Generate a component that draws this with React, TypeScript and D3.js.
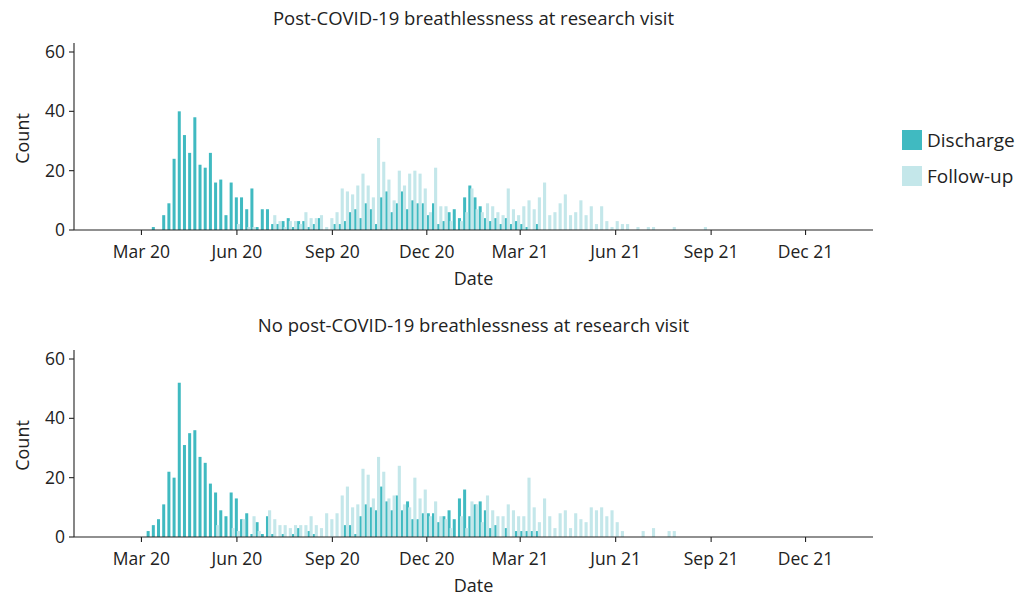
import React from 'react';
import * as d3 from 'd3';

// 5-day bins starting from the first admission week
const binStart = new Date(2020, 2, 6);
const binDays = 5;

const topDischarge = [
  0, 1, 0, 5, 9, 24, 40, 32, 26, 38,
  22, 21, 26, 16, 17, 5, 16, 11, 11, 7,
  14, 1, 7, 7, 2, 2, 3, 4, 1, 3,
  3, 1, 2, 4, 0, 0, 2, 2, 3, 6,
  7, 4, 9, 7, 2, 11, 13, 6, 9, 13,
  7, 10, 9, 9, 5, 9, 2, 3, 6, 7,
  4, 11, 15, 11, 8, 4, 3, 4, 2, 4,
  2, 3, 2, 1, 0, 2, 0, 0, 0, 0,
];
const topFollowUp = [
  0, 0, 0, 0, 0, 0, 0, 0, 0, 0,
  0, 0, 0, 0, 0, 0, 0, 2, 0, 1,
  1, 0, 0, 0, 5, 3, 1, 3, 3, 2,
  6, 4, 4, 5, 1, 4, 6, 14, 13, 12,
  15, 19, 15, 11, 31, 23, 17, 10, 20, 15,
  19, 20, 19, 14, 6, 21, 8, 8, 3, 0,
  3, 6, 14, 7, 6, 9, 8, 6, 5, 14,
  7, 5, 8, 10, 7, 11, 16, 5, 6, 9,
  12, 5, 6, 10, 5, 8, 2, 8, 3, 1,
  3, 2, 2, 0, 1, 0, 1, 1, 0, 0,
  0, 1, 0, 0, 0, 0, 0, 1,
];
const bottomDischarge = [
  2, 4, 6, 11, 22, 20, 52, 31, 35, 36,
  27, 25, 18, 15, 9, 7, 15, 13, 6, 8,
  1, 5, 1, 7, 1, 0, 1, 0, 1, 3,
  0, 2, 1, 0, 0, 0, 0, 0, 4, 4,
  1, 7, 11, 10, 9, 17, 12, 9, 14, 9,
  12, 6, 6, 8, 8, 8, 5, 7, 9, 6,
  13, 16, 7, 11, 12, 9, 3, 4, 0, 3,
  0, 2, 2, 2, 2, 2, 0, 0, 0, 0,
];
const bottomFollowUp = [
  0, 0, 0, 0, 0, 0, 0, 0, 0, 0,
  0, 0, 0, 4, 0, 0, 3, 2, 6, 0,
  7, 2, 0, 9, 6, 4, 4, 3, 4, 4,
  4, 7, 4, 3, 8, 6, 8, 14, 17, 10,
  11, 23, 21, 13, 27, 22, 13, 14, 24, 11,
  10, 20, 13, 16, 7, 12, 7, 6, 3, 0,
  7, 3, 12, 11, 5, 14, 9, 7, 7, 11,
  9, 7, 7, 20, 10, 5, 13, 7, 3, 8,
  9, 3, 8, 6, 5, 10, 9, 10, 7, 9,
  5, 2, 0, 0, 0, 2, 0, 3, 0, 0,
  2, 2,
];

const panels = [
  { title: 'Post-COVID-19 breathlessness at research visit', discharge: topDischarge, followUp: topFollowUp },
  { title: 'No post-COVID-19 breathlessness at research visit', discharge: bottomDischarge, followUp: bottomFollowUp },
];

const xTicks = [
  new Date(2020, 2, 1), new Date(2020, 5, 1), new Date(2020, 8, 1), new Date(2020, 11, 1),
  new Date(2021, 2, 1), new Date(2021, 5, 1), new Date(2021, 8, 1), new Date(2021, 11, 1),
];
const yTicks = [0, 20, 40, 60];

const seriesNames = ['Discharge', 'Follow-up'];
const colors = ['#40BAC1', '#C4E7EA'];

const font = "'Open Sans', sans-serif";
const ink = '#222';

const W = 1028;
const H = 595;
const left = 74;
const right = 873;
const panelStep = 307;

const x = d3.scaleTime()
  .domain([new Date(2019, 11, 27), new Date(2022, 1, 4)])
  .range([left, right]);

const y = d3.scaleLinear().domain([0, 60]).range([230, 52]);
const fmt = d3.timeFormat('%b %y');

const binDate = (i: number) => d3.timeDay.offset(binStart, i * binDays);

const Panel = ({ p, dy }: { p: typeof panels[0]; dy: number }) => {
  const bins = d3.range(Math.max(p.discharge.length, p.followUp.length));
  const bw = x(binDate(1)) - x(binDate(0));
  return (
    <g transform={`translate(0,${dy})`}>
      <text x={(left + right) / 2} y={25} textAnchor="middle" fontSize={18.5} fill={ink}>{p.title}</text>
      {bins.map(i => {
        const v = p.discharge[i] || 0;
        if (!v) return null;
        return <rect key={'d' + i} x={x(binDate(i))} y={y(v)} width={bw * 0.58} height={y(0) - y(v)} fill={colors[0]} />;
      })}
      {bins.map(i => {
        const v = p.followUp[i] || 0;
        if (!v) return null;
        return <rect key={'f' + i} x={x(binDate(i)) + bw * 0.4} y={y(v)} width={bw * 0.6} height={y(0) - y(v)} fill={colors[1]} />;
      })}
      <line x1={left} x2={left} y1={43} y2={y(0)} stroke={ink} strokeWidth={1.1} />
      <line x1={left} x2={right} y1={y(0)} y2={y(0)} stroke={ink} strokeWidth={1.1} />
      {yTicks.map(t => (
        <g key={t}>
          <line x1={left - 5} x2={left} y1={y(t)} y2={y(t)} stroke={ink} strokeWidth={1.1} />
          <text x={left - 9} y={y(t)} dy="0.35em" textAnchor="end" fontSize={17.5} fill={ink}>{t}</text>
        </g>
      ))}
      {xTicks.map(t => (
        <g key={+t}>
          <line x1={x(t)} x2={x(t)} y1={y(0)} y2={y(0) + 5} stroke={ink} strokeWidth={1.1} />
          <text x={x(t)} y={258} textAnchor="middle" fontSize={17.5} fill={ink}>{fmt(t)}</text>
        </g>
      ))}
      <text x={(left + right) / 2} y={284.5} textAnchor="middle" fontSize={18} fill={ink}>Date</text>
      <text transform={`translate(23,${(43 + 230) / 2 + 2}) rotate(-90)`} textAnchor="middle" dy="0.35em" fontSize={18} fill={ink}>Count</text>
    </g>
  );
};

export default function App() {
  return (
    <svg width={W} height={H} style={{ position: 'absolute', left: 0, top: 0, fontFamily: font }}>
      <rect width={W} height={H} fill="#fff" />
      {panels.map((p, k) => <Panel key={k} p={p} dy={k * panelStep} />)}
      {seriesNames.map((s, k) => (
        <g key={s} transform={`translate(902,${130 + k * 36})`}>
          <rect width={20} height={20} fill={colors[k]} />
          <text x={25} y={10} dy="0.35em" fontSize={19} fill={ink}>{s}</text>
        </g>
      ))}
    </svg>
  );
}
